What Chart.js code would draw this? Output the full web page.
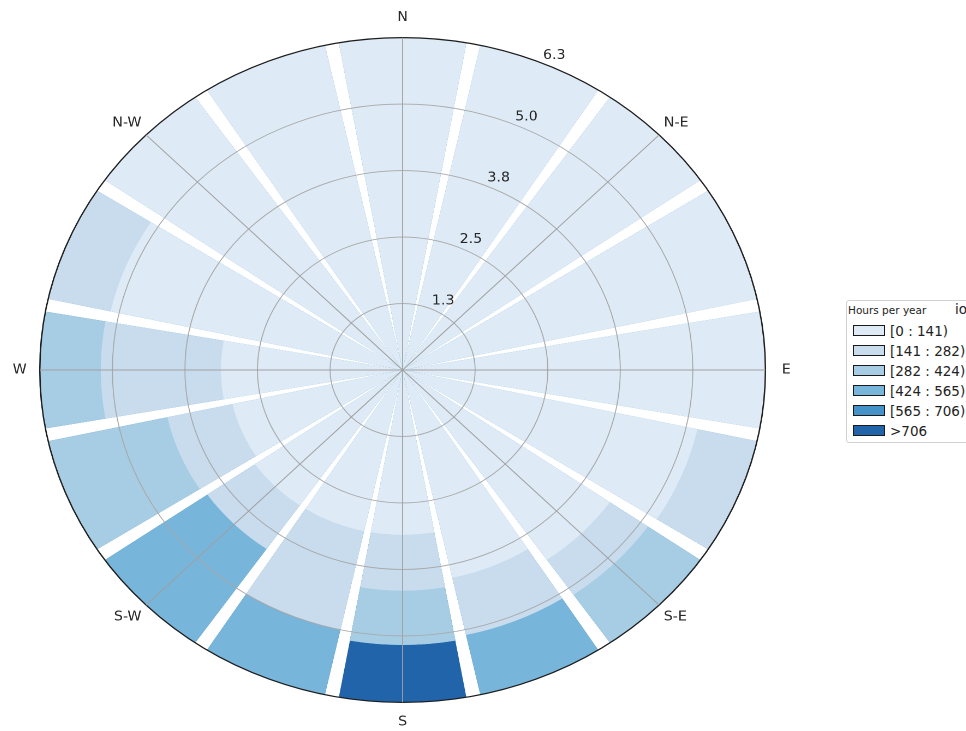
<!DOCTYPE html>
<html>
<head>
<meta charset="utf-8">
<script src="https://cdn.jsdelivr.net/npm/chart.js@4/dist/chart.umd.min.js"></script>
<style>
  html, body { margin: 0; padding: 0; background: #fff; }
  body { width: 966px; height: 731px; overflow: hidden; position: relative; font-family: 'DejaVu Sans', sans-serif; color: #222; }
  /* the reference rose is an ellipse: draw a circle, then stretch it sideways */
  #rose { position: absolute; left: -34.4px; top: 0; width: 800px; height: 731px; transform: scaleX(1.0915); transform-origin: 0 0; }
  #legend { position: absolute; left: 846px; top: 300px; width: 140px; height: 143px; border: 1px solid #d2d2d2; border-radius: 3px; box-sizing: border-box; background: #fff; }
  #legend .title { position: absolute; left: 1px; top: 3px; font-size: 10.5px; }
  #legend .extra { position: absolute; left: 108px; top: 0px; font-size: 13.5px; }
  #legend .row { position: absolute; left: 6px; height: 20px; display: flex; align-items: center; font-size: 13.5px; white-space: nowrap; }
  #legend .sw { width: 32px; height: 11px; border: 1px solid #1a1a1a; box-sizing: border-box; margin-right: 5px; }
</style>
</head>
<body>
<div id="rose"><canvas id="chart"></canvas></div>
<div id="legend">
  <div class="title">Hours per year</div>
  <div class="extra">io</div>
</div>
<script>
'use strict'

const directions = ['N', 'NNE', 'NE', 'ENE', 'E', 'ESE', 'SE', 'SSE', 'S', 'SSW', 'SW', 'WSW', 'W', 'WNW', 'NW', 'NNW'];
const compassLabels = ['N', 'N-E', 'E', 'S-E', 'S', 'S-W', 'W', 'N-W'];

const classLabels = ['[0 : 141)', '[141 : 282)', '[282 : 424)', '[424 : 565)', '[565 : 706)', '>706'];
const classColors = ['#deebf6', '#c8dcee', '#a6cde3', '#78b5da', '#4592c8', '#2164a9'];

// radial extent of each hours class, per direction (N .. NNW)
const h0_141   = [6.25, 6.25, 6.25, 6.25, 6.25, 5.2, 4.35, 4.0, 3.1, 3.1, 3.1, 3.0, 3.13, 5.15, 6.25, 6.25];
const h141_282 = [0, 0, 0, 0, 0, 1.05, 0.8, 1.1, 1.05, 1.9, 1.0, 1.15, 2.07, 1.1, 0, 0];
const h282_424 = [0, 0, 0, 0, 0, 0, 1.1, 0, 1.02, 0, 0, 2.1, 1.05, 0, 0, 0];
const h424_565 = [0, 0, 0, 0, 0, 0, 0, 1.15, 0, 1.25, 2.15, 0, 0, 0, 0, 0];
const h565_706 = [0, 0, 0, 0, 0, 0, 0, 0, 0, 0, 0, 0, 0, 0, 0, 0];
const h706up   = [0, 0, 0, 0, 0, 0, 0, 0, 1.08, 0, 0, 0, 0, 0, 0, 0];

const rTicks = [1.25, 2.5, 3.75, 5.0, 6.25];
const rTickLabels = ['1.3', '2.5', '3.8', '5.0', '6.3'];

const bands = [h0_141, h141_282, h282_424, h424_565, h565_706, h706up];

// sectors do not fill their whole slice: a thin wedge gap between them.
// N is split in two halves so the arcs can start at 0 deg like the labels.
const opening = 0.9;
const step = 360 / directions.length;
const arcDir = [0];
const arcAngle = [step * opening / 2];
for (let d = 1; d < directions.length; d++) {
	arcDir.push(-1); arcAngle.push(step * (1 - opening));
	arcDir.push(d); arcAngle.push(step * opening);
}
arcDir.push(-1); arcAngle.push(step * (1 - opening));
arcDir.push(0); arcAngle.push(step * opening / 2);

let run = directions.map(() => 0);
const datasets = bands.map((band, k) => {
	run = run.map((v, d) => v + band[d]);
	const cum = run.slice();
	return {
		label: classLabels[k],
		data: arcDir.map(d => d < 0 ? 0 : Math.round(cum[d] * 1e6) / 1e6),
		backgroundColor: classColors[k],
		borderWidth: 0,
		angle: (ctx) => arcAngle[ctx.dataIndex],
	};
});

// legend box
const legend = document.getElementById('legend');
classLabels.forEach((lab, i) => {
	const row = document.createElement('div');
	row.className = 'row';
	row.style.top = (19.7 + 20 * i) + 'px';
	row.innerHTML = '<span class="sw" style="background:' + classColors[i] + '"></span><span>' + lab + '</span>';
	legend.appendChild(row);
});

const labelPad = [12, 6, 15, 6, 12, 6, 12, 6];
const labelRay = 22.5;

const rayLabels = {
	id: 'rayLabels',
	afterDraw(chart) {
		const s = chart.scales.r;
		const c = chart.ctx;
		const a = labelRay * Math.PI / 180;
		c.save();
		c.font = '13px "DejaVu Sans"';
		c.fillStyle = '#262626';
		c.textAlign = 'center';
		c.textBaseline = 'middle';
		s.ticks.forEach(t => {
			if (!t.value) return;
			const d = s.getDistanceFromCenterForValue(t.value);
			c.fillText(t.label, s.xCenter + d * Math.sin(a) + 11.7, s.yCenter - d * Math.cos(a) - 7.4);
		});
		c.restore();
	}
};

Chart.defaults.font.family = 'DejaVu Sans';

new Chart(document.getElementById('chart'), {
	type: 'polarArea',
	data: {
		labels: arcDir.map(d => d < 0 ? '' : directions[d]),
		datasets: datasets,
	},
	options: {
		responsive: true,
		maintainAspectRatio: false,
		devicePixelRatio: 2,
		animation: false,
		events: [],
		layout: { padding: { top: 11, bottom: 0, left: 0, right: 0 } },
		plugins: {
			legend: { display: false },
			tooltip: { enabled: false },
		},
		scales: {
			r: {
				labels: compassLabels,
				min: 0,
				max: 6.25,
				startAngle: 0,
				ticks: {
					display: false,
					stepSize: 1.25,
					callback: (v) => {
						const i = rTicks.indexOf(v);
						return i < 0 ? '' : rTickLabels[i];
					},
				},
				grid: {
					z: 1,
					circular: true,
					color: (ctx) => ctx.tick && ctx.tick.value === 6.25 ? '#1e1e1e' : '#a8a8a8',
					lineWidth: (ctx) => ctx.tick && ctx.tick.value === 6.25 ? 1.3 : 0.9,
				},
				angleLines: {
					display: true,
					color: '#a0a0a0',
					lineWidth: 0.9,
				},
				pointLabels: {
					display: true,
					color: '#262626',
					font: { family: 'DejaVu Sans', size: 13 },
					padding: (ctx) => labelPad[ctx.index],
				},
			},
		},
	},
	plugins: [rayLabels],
});
</script>
</body>
</html>
